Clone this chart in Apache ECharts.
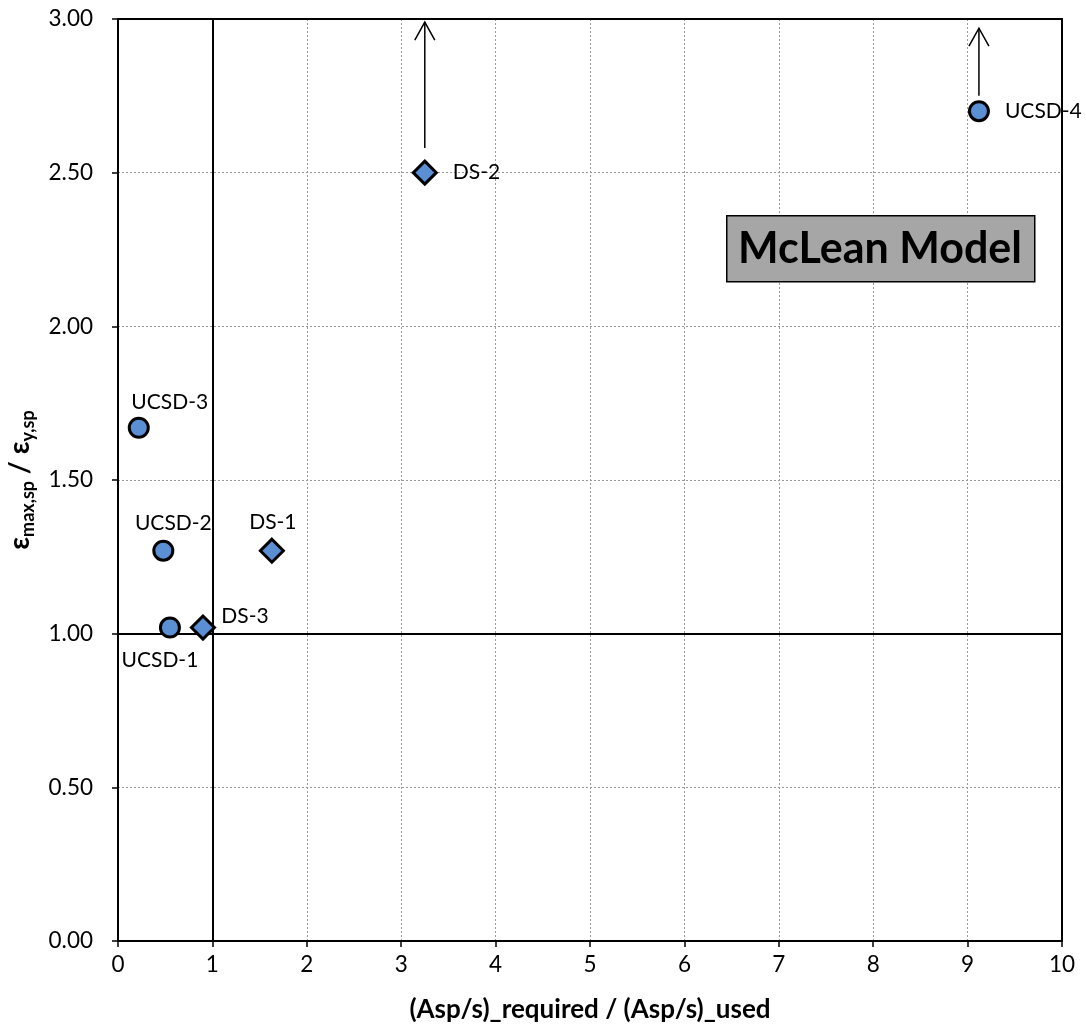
<!DOCTYPE html>
<html>
<head>
<meta charset="utf-8">
<script src="https://cdn.jsdelivr.net/npm/echarts@6/dist/echarts.min.js"></script>
<style>html,body{margin:0;padding:0;background:#fff;}#c{width:1086px;height:1034px;}</style>
</head>
<body>
<div id="c"></div>
<script>
// ---- data ----
var circleNames = ['UCSD-1', 'UCSD-2', 'UCSD-3', 'UCSD-4'];
var circleX = [0.55, 0.48, 0.22, 9.12];
var circleY = [1.02, 1.27, 1.67, 2.70];
var diamondNames = ['DS-1', 'DS-2', 'DS-3'];
var diamondX = [1.63, 3.25, 0.90];
var diamondY = [1.27, 2.50, 1.02];
// arrows: [x, yStart, yEnd]
var arrowX = [3.25, 9.12];
var arrowY0 = [2.58, 2.75];
var arrowY1 = [2.99, 2.97];
var xTicks = [0, 1, 2, 3, 4, 5, 6, 7, 8, 9, 10];
var yTicks = [0.00, 0.50, 1.00, 1.50, 2.00, 2.50, 3.00];
var refX = 1, refY = 1;

// ---- label styling (not data) ----
var labelStyle = {
  'UCSD-1': {position: 'inside', offset: [-10, 33]},
  'UCSD-2': {position: 'inside', offset: [10, -27]},
  'UCSD-3': {position: 'inside', offset: [31, -26]},
  'UCSD-4': {position: 'right', offset: [0, 0], distance: 15},
  'DS-1': {position: 'inside', offset: [1, -28]},
  'DS-2': {position: 'right', offset: [0, 0], distance: 15},
  'DS-3': {position: 'inside', offset: [42, -11]}
};
function mk(names, xs, ys) {
  return names.map(function (n, i) {
    var ls = labelStyle[n];
    return {name: n, value: [xs[i], ys[i]], label: {show: true, formatter: n, position: ls.position, offset: ls.offset, distance: ls.distance || 5}};
  });
}
var font = 'Lato, "Open Sans", sans-serif';
var fill = '#5a8fd4';
var chart = echarts.init(document.getElementById('c'));
chart.setOption({
  animation: false,
  backgroundColor: '#fff',
  textStyle: {fontFamily: font},
  grid: {left: 118, right: 24, top: 19, bottom: 93, show: true, borderColor: '#000', borderWidth: 2, containLabel: false, outerBoundsMode: 'none'},
  xAxis: {
    type: 'value', min: xTicks[0], max: xTicks[xTicks.length - 1], interval: 1,
    name: '(Asp/s)_required / (Asp/s)_used', nameLocation: 'middle', nameGap: 56,
    nameTextStyle: {fontSize: 26, fontWeight: 'bold', color: '#000', fontFamily: font},
    axisLine: {show: true, lineStyle: {color: '#000', width: 2}},
    axisTick: {show: true, length: 6, lineStyle: {color: '#000', width: 1.5}},
    axisLabel: {fontSize: 22.5, color: '#000', margin: 12, fontFamily: font},
    splitLine: {show: true, lineStyle: {color: '#999', type: [2, 2], width: 1}}
  },
  yAxis: {
    type: 'value', min: yTicks[0], max: yTicks[yTicks.length - 1], interval: 0.5,
    name: '{a|ε}{s|max,sp}{a| / ε}{s|y,sp}', nameLocation: 'middle', nameGap: 80, nameRotate: 90,
    nameTextStyle: {
      color: '#000', fontFamily: font,
      rich: {
        a: {fontSize: 28, fontWeight: 'bold', color: '#000', fontFamily: font, lineHeight: 36, verticalAlign: 'middle'},
        s: {fontSize: 18, fontWeight: 'bold', color: '#000', fontFamily: font, lineHeight: 36, verticalAlign: 'bottom'}
      }
    },
    axisLine: {show: true, lineStyle: {color: '#000', width: 2}},
    axisTick: {show: true, length: 6, lineStyle: {color: '#000', width: 1.5}},
    axisLabel: {fontSize: 22.5, color: '#000', margin: 25, fontFamily: font, formatter: function (v) { return v.toFixed(2); }},
    splitLine: {show: true, lineStyle: {color: '#999', type: [2, 2], width: 1}}
  },
  series: [
    {
      type: 'line', data: [], silent: true,
      markLine: {
        silent: true, symbol: ['none', 'none'], label: {show: false},
        lineStyle: {color: '#000', width: 2, type: 'solid'},
        data: [{xAxis: refX}, {yAxis: refY}, {xAxis: xTicks[xTicks.length - 1]}, {yAxis: yTicks[yTicks.length - 1]}]
      }
    },
    {
      type: 'custom', silent: true, z: 3,
      data: arrowX.map(function (x, i) { return [x, arrowY0[i], arrowY1[i]]; }),
      renderItem: function (params, api) {
        var p0 = api.coord([api.value(0), api.value(1)]);
        var p1 = api.coord([api.value(0), api.value(2)]);
        return {
          type: 'group',
          children: [
            {type: 'line', shape: {x1: p0[0], y1: p0[1], x2: p1[0], y2: p1[1]}, style: {stroke: '#000', lineWidth: 1.5}},
            {type: 'polyline', shape: {points: [[p1[0] - 10, p1[1] + 18], [p1[0], p1[1]], [p1[0] + 10, p1[1] + 18]]}, style: {stroke: '#000', lineWidth: 1.5, fill: null}}
          ]
        };
      }
    },
    {
      type: 'scatter', symbol: 'circle', symbolSize: 19, z: 5,
      itemStyle: {color: fill, borderColor: '#000', borderWidth: 3, opacity: 1},
      label: {show: true, fontSize: 21, color: '#000', fontFamily: font},
      data: mk(circleNames, circleX, circleY)
    },
    {
      type: 'scatter', symbol: 'diamond', symbolSize: [23, 23], z: 5,
      itemStyle: {color: fill, borderColor: '#000', borderWidth: 3, opacity: 1},
      label: {show: true, fontSize: 21, color: '#000', fontFamily: font},
      data: mk(diamondNames, diamondX, diamondY)
    }
  ],
  graphic: [
    {type: 'rect', left: 726, top: 215, z: 100, shape: {width: 308, height: 66}, style: {fill: '#a6a6a6', stroke: '#000', lineWidth: 1.5}},
    {type: 'text', x: 880, y: 249, z: 101, style: {text: 'McLean Model', fill: '#000', font: 'bold 43px ' + font, align: 'center', verticalAlign: 'middle'}}
  ]
});
</script>
</body>
</html>
